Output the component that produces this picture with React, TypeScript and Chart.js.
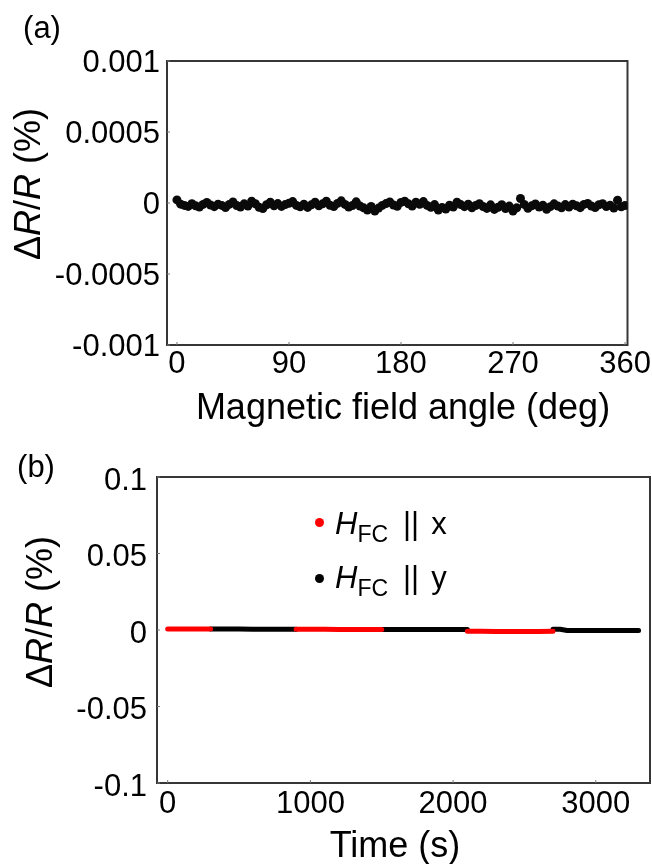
import React, { useEffect, useRef } from "react";
import { Chart, registerables } from "chart.js";

Chart.register(...registerables);

const FONT = "'Liberation Sans', Arial, Helvetica, sans-serif";

// ---------- Panel (a): ΔR/R vs magnetic field angle ----------
const angleDeg = [
  0, 3, 6, 9, 12, 15, 18, 21, 24, 27,
  30, 33, 36, 39, 42, 45, 48, 51, 54, 57,
  60, 63, 66, 69, 72, 75, 78, 81, 84, 87,
  90, 93, 96, 99, 102, 105, 108, 111, 114, 117,
  120, 123, 126, 129, 132, 135, 138, 141, 144, 147,
  150, 153, 156, 159, 162, 165, 168, 171, 174, 177,
  180, 183, 186, 189, 192, 195, 198, 201, 204, 207,
  210, 213, 216, 219, 222, 225, 228, 231, 234, 237,
  240, 243, 246, 249, 252, 255, 258, 261, 264, 267,
  270, 273, 276, 279, 282, 285, 288, 291, 294, 297,
  300, 303, 306, 309, 312, 315, 318, 321, 324, 327,
  330, 333, 336, 339, 342, 345, 348, 351, 354, 357,
  360,
];

const dRRangle = [
  2.2e-5, -8e-6, -1.7e-5, -2.4e-5, -5e-6, -2e-5, -2.9e-5, -1e-5, 4e-6, -1.4e-5,
  -2.6e-5, -8e-6, -1.7e-5, -3.2e-5, -1e-5, 7e-6, -1.8e-5, -2.8e-5, -6e-6, -2.2e-5,
  1.3e-5, -5e-6, -3e-5, -3.9e-5, -1.2e-5, 5e-6, -2e-5, -4e-6, -2.4e-5, -1.1e-5,
  -2e-6, 1e-5, -1.7e-5, -2.7e-5, -9e-6, -3.1e-5, -1.3e-5, 6e-6, -1.9e-5, -6e-6,
  1.2e-5, -1.6e-5, -2.5e-5, -3e-6, 1.5e-5, -1e-5, -2.8e-5, -1.8e-5, 8e-6, -2.1e-5,
  -3.4e-5, -5e-5, -2.4e-5, -5.6e-5, -3.6e-5, -1.7e-5, -4e-6, 7e-6, -1.4e-5, -2.3e-5,
  4e-6, 1.3e-5, -6e-6, -2.1e-5, 6e-6, -9e-6, 1e-5, -1.7e-5, -3e-5, -1.1e-5,
  -5e-5, -3.1e-5, -4.3e-5, -1.5e-5, -2.8e-5, 5e-6, -1.1e-5, -2.6e-5, -8e-6, -3.4e-5,
  -1.8e-5, -5e-6, -2.5e-5, -3.8e-5, -1.3e-5, -4.5e-5, -3e-5, -1.2e-5, -3.9e-5, -2.2e-5,
  -5.6e-5, -3.4e-5, 3.2e-5, -1e-5, -3.7e-5, -2e-5, -7e-6, -2.8e-5, -1.5e-5, -4.4e-5,
  -2.6e-5, -6e-6, -2.1e-5, -3.4e-5, -1.1e-5, -2.9e-5, -8e-6, -1.9e-5, -3.3e-5, -1e-5,
  -3e-6, -2.1e-5, -3.2e-5, -1.2e-5, -5e-6, -2.5e-5, -1.5e-5, -3.5e-5, 1.9e-5, -2.7e-5,
  -1.8e-5,
];

const angleXTicks = [0, 90, 180, 270, 360];
const angleYTicks = [0.001, 0.0005, 0, -0.0005, -0.001];
const angleYTickLabels = ["0.001", "0.0005", "0", "-0.0005", "-0.001"];

// ---------- Panel (b): ΔR/R vs time ----------
const timeX1 = [0, 100, 200, 300];
const dRRX1 = [0.0007, 0.0007, 0.0006, 0.0006];
const timeY1 = [300, 400, 500, 600, 700, 800, 900];
const dRRY1 = [0.0006, 0.0006, 0.0006, 0.0005, 0.0005, 0.0005, 0.0005];
const timeX2 = [900, 1000, 1100, 1200, 1300, 1400, 1500];
const dRRX2 = [0.0005, 0.0005, 0.0005, 0.0004, 0.0004, 0.0004, 0.0004];
const timeY2 = [1500, 1600, 1700, 1800, 1900, 2000, 2100];
const dRRY2 = [0.0004, 0.0004, 0.0004, 0.0003, 0.0003, 0.0003, 0.0003];
const timeX3 = [2100, 2200, 2300, 2400, 2500, 2600, 2700];
const dRRX3 = [-0.0008, -0.0008, -0.0009, -0.0009, -0.0009, -0.0009, -0.0008];
const timeY3 = [2700, 2750, 2800, 2900, 3000, 3100, 3200, 3300];
const dRRY3 = [0.0005, 0.0005, -0.0003, -0.0003, -0.0004, -0.0004, -0.0004, -0.0004];

const timeXTicks = [0, 1000, 2000, 3000];
const timeYTicks = [0.1, 0.05, 0, -0.05, -0.1];
const timeYTickLabels = ["0.1", "0.05", "0", "-0.05", "-0.1"];

const RED = "#ff0000";
const BLACK = "#000000";

const toXY = (xs: number[], ys: number[]) => xs.map((x, i) => ({ x, y: ys[i] }));

const framePlugin = {
  id: "frameBox",
  beforeDatasetsDraw(chart: any) {
    const { ctx, chartArea } = chart;
    const { left, top, right, bottom } = chartArea;
    ctx.save();
    ctx.strokeStyle = "#363636";
    ctx.lineWidth = 2;
    ctx.strokeRect(left, top, right - left, bottom - top);
    ctx.lineWidth = 1;
    ctx.strokeStyle = "#777";
    const xs = chart.scales.x;
    const ys = chart.scales.y;
    xs.ticks.forEach((t: any) => {
      const p = xs.getPixelForValue(t.value);
      ctx.beginPath();
      ctx.moveTo(p, bottom);
      ctx.lineTo(p, bottom - 3);
      ctx.stroke();
    });
    ys.ticks.forEach((t: any) => {
      const p = ys.getPixelForValue(t.value);
      ctx.beginPath();
      ctx.moveTo(left, p);
      ctx.lineTo(left + 3, p);
      ctx.stroke();
    });
    ctx.restore();
  },
};

const tickFont = { family: FONT, size: 31 };

function makeScales(opts: {
  xMin: number; xMax: number; xTicks: number[]; xHeight: number; xPad: number;
  yMin: number; yMax: number; yTicks: number[]; yLabels: string[]; yWidth: number; yPad: number; yOff: number;
}) {
  return {
    x: {
      type: "linear",
      min: opts.xMin,
      max: opts.xMax,
      afterBuildTicks: (s: any) => {
        s.ticks = opts.xTicks.map((v) => ({ value: v }));
      },
      afterFit: (s: any) => {
        s.height = opts.xHeight;
      },
      grid: { display: false, drawTicks: false },
      border: { display: false },
      ticks: {
        font: tickFont,
        color: "#000",
        padding: opts.xPad,
        maxRotation: 0,
        autoSkip: false,
        callback: (v: any) => String(v),
      },
    },
    y: {
      type: "linear",
      min: opts.yMin,
      max: opts.yMax,
      afterBuildTicks: (s: any) => {
        s.ticks = opts.yTicks.map((v) => ({ value: v }));
      },
      afterFit: (s: any) => {
        s.width = opts.yWidth;
      },
      grid: { display: false, drawTicks: false },
      border: { display: false },
      ticks: {
        font: tickFont,
        color: "#000",
        padding: opts.yPad,
        labelOffset: opts.yOff,
        autoSkip: false,
        callback: (v: any, i: number) => opts.yLabels[i],
      },
    },
  };
}

function AngleChart() {
  const ref = useRef<HTMLCanvasElement | null>(null);
  useEffect(() => {
    if (!ref.current) return;
    const chart = new Chart(ref.current, {
      type: "scatter",
      data: {
        datasets: [
          {
            data: toXY(angleDeg, dRRangle),
            backgroundColor: "#0a0a0a",
            borderColor: "#0a0a0a",
            pointRadius: 4.5,
            pointBorderWidth: 0,
            showLine: false,
          },
        ],
      },
      options: {
        responsive: false,
        animation: false,
        events: [],
        layout: { padding: { left: 0, right: 24, top: 61, bottom: 0 } },
        plugins: { legend: { display: false }, tooltip: { enabled: false } },
        scales: makeScales({
          xMin: -8, xMax: 362, xTicks: angleXTicks, xHeight: 95, xPad: 1,
          yMin: -0.001, yMax: 0.001, yTicks: angleYTicks, yLabels: angleYTickLabels,
          yWidth: 167, yPad: 7, yOff: 2,
        }) as any,
      },
      plugins: [framePlugin],
    });
    return () => chart.destroy();
  }, []);
  return (
    <canvas
      ref={ref}
      width={652}
      height={440}
      style={{ position: "absolute", left: 0, top: 0, width: 652, height: 440 }}
    />
  );
}

function TimeChart() {
  const ref = useRef<HTMLCanvasElement | null>(null);
  useEffect(() => {
    if (!ref.current) return;
    const seg = (xs: number[], ys: number[], color: string) => ({
      data: toXY(xs, ys),
      borderColor: color,
      backgroundColor: color,
      borderWidth: 5,
      borderCapStyle: "round",
      borderJoinStyle: "round",
      pointRadius: 0,
      showLine: true,
      fill: false,
      tension: 0,
    });
    const chart = new Chart(ref.current, {
      type: "scatter",
      data: {
        datasets: [
          seg(timeX1, dRRX1, RED),
          seg(timeX2, dRRX2, RED),
          seg(timeX3, dRRX3, RED),
          seg(timeY1, dRRY1, BLACK),
          seg(timeY2, dRRY2, BLACK),
          seg(timeY3, dRRY3, BLACK),
        ] as any,
      },
      options: {
        responsive: false,
        animation: false,
        events: [],
        layout: { padding: { left: 0, right: 2, top: 37, bottom: 0 } },
        plugins: { legend: { display: false }, tooltip: { enabled: false } },
        scales: makeScales({
          xMin: -75, xMax: 3380, xTicks: timeXTicks, xHeight: 81, xPad: 3,
          yMin: -0.1, yMax: 0.1, yTicks: timeYTicks, yLabels: timeYTickLabels,
          yWidth: 157, yPad: 10, yOff: 4,
        }) as any,
      },
      plugins: [framePlugin],
    });
    return () => chart.destroy();
  }, []);
  return (
    <canvas
      ref={ref}
      width={652}
      height={424}
      style={{ position: "absolute", left: 0, top: 440, width: 652, height: 424 }}
    />
  );
}

const centered = (cx: number, cy: number, size: number, extra: any = {}) => ({
  position: "absolute" as const,
  left: cx,
  top: cy,
  transform: "translate(-50%, -50%)",
  fontFamily: FONT,
  fontSize: size,
  lineHeight: `${size}px`,
  whiteSpace: "nowrap" as const,
  color: "#000",
  ...extra,
});

const YTitle = ({ cx, cy }: { cx: number; cy: number }) => (
  <div style={centered(cx, cy, 36, { transform: "translate(-50%, -50%) rotate(-90deg)" })}>
    Δ<i>R</i>/<i>R</i> (%)
  </div>
);

const LegendRow = ({ top, dotY, color, dir }: { top: number; dotY: number; color: string; dir: string }) => (
  <>
    <div
      style={{
        position: "absolute",
        left: 319 - 4.5,
        top: dotY - 4.5,
        width: 9,
        height: 9,
        borderRadius: "50%",
        background: color,
      }}
    />
    <div
      style={{
        position: "absolute",
        left: 335,
        top,
        fontFamily: FONT,
        fontSize: 31,
        lineHeight: "31px",
        whiteSpace: "nowrap",
        color: "#000",
      }}
    >
      <i>H</i>
      <span style={{ fontSize: 23, position: "relative", top: 8 }}>FC</span>
      <span style={{ marginLeft: 15 }}>||</span>
      <span style={{ marginLeft: 12 }}>{dir}</span>
    </div>
  </>
);

export default function App() {
  return (
    <div
      style={{
        position: "absolute",
        left: 0,
        top: 0,
        width: 652,
        height: 864,
        overflow: "hidden",
        background: "#fff",
      }}
    >
      <AngleChart />
      <TimeChart />
      <div style={centered(42, 27, 31)}>(a)</div>
      <div style={centered(36, 466, 31)}>(b)</div>
      <YTitle cx={28} cy={184} />
      <YTitle cx={40} cy={612} />
      <div style={centered(403, 407, 36)}>Magnetic field angle (deg)</div>
      <div style={centered(395, 845, 36)}>Time (s)</div>
      <LegendRow top={508} dotY={522} color={RED} dir="x" />
      <LegendRow top={562} dotY={578} color={BLACK} dir="y" />
    </div>
  );
}
